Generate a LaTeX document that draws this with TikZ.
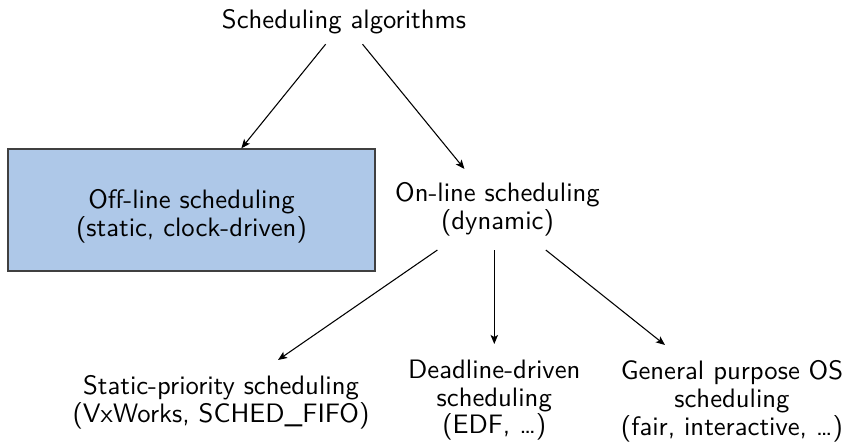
\documentclass[tikz,border=0pt]{standalone}
\usepackage{fontspec}
\usetikzlibrary{arrows.meta,calc}
\definecolor{boxblue}{RGB}{174,200,232}
\definecolor{boxline}{RGB}{64,64,64}
\tikzset{
  arr/.style={-{Stealth[length=3.4pt,width=2.8pt,inset=0.8pt]}, line width=0.4pt},
  lbl/.style={align=center, inner xsep=3pt},
  leaf/.style={align=center, anchor=north, inner xsep=3pt, inner ysep=5.75pt},
  offbox/.style={draw=boxline, fill=boxblue, line width=0.5pt,
    minimum width=137.6pt, minimum height=45.75pt, inner sep=0pt}
}
\begin{document}
\begin{tikzpicture}[x=0.375pt, y=-0.375pt, font=\sffamily\fontsize{10}{10.4}\selectfont]
\useasboundingbox (0,0) rectangle (849,442);
\node[lbl, anchor=base, inner ysep=3.7pt] (top) at (344,28.3) {Scheduling algorithms};
\node[offbox] (off) at (191.5,210) {};
\node[lbl] (offtxt) at ($(off.center)+(0,6.5)$) {Off-line scheduling\\(static, clock-driven)};
\node[lbl, minimum height=30pt] (on) at (497.5,209.5) {On-line scheduling\\(dynamic)};
\node[leaf] (static) at (221,360) {Static-priority scheduling\\(VxWorks, SCHED\_FIFO)};
\node[leaf] (dl) at (494.3,344) {Deadline-driven\\scheduling\\(EDF, …)};
\node[leaf] (gen) at (732,345) {General purpose OS\\scheduling\\(fair, interactive, …)};
\draw[arr] (top) -- (off);
\draw[arr] (top) -- (on);
\draw[arr] (on.214) -- ($(static.north)+(57,0)$);
\draw[arr] (dl.north |- on.south) -- (dl.north);
\draw[arr] (on.320) -- ($(gen.north)+(-67,0)$);
\end{tikzpicture}
\end{document}
